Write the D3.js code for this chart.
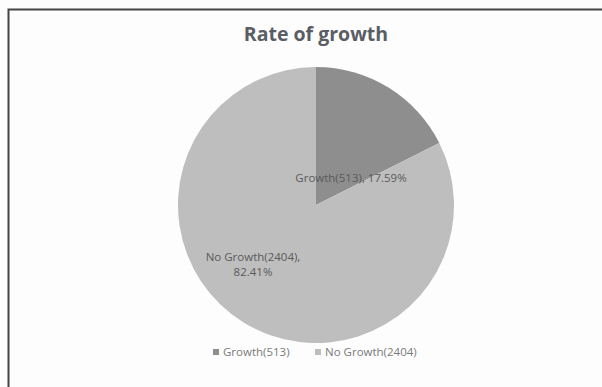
<!DOCTYPE html>
<html>
<head>
<meta charset="utf-8">
<script src="https://cdn.jsdelivr.net/npm/d3@7"></script>
<style>
  body { margin: 0; background: #fff; }
  svg { display: block; }
</style>
</head>
<body>
<div id="chart"></div>
<script>
// chart data
var categories = ["Growth", "No Growth"];
var counts = [513, 2404];
var percents = [17.59, 82.41];
var sliceColors = ["#8e8e8e", "#bebebe"];

var width = 602, height = 387;
var cx = 316, cy = 205, radius = 138;

var svg = d3.select("#chart").append("svg")
    .attr("width", width)
    .attr("height", height);

// background + frame (only top/left edge visible in the crop)
svg.append("rect")
    .attr("width", width).attr("height", height)
    .attr("fill", "#fdfdfd");
svg.append("path")
    .attr("d", "M8.5," + height + " L8.5,9.5 L" + width + ",9.5")
    .attr("fill", "none")
    .attr("stroke", "#444")
    .attr("stroke-width", 2);

// title
svg.append("text")
    .attr("x", 316).attr("y", 41)
    .attr("text-anchor", "middle")
    .style("font-family", "'Open Sans', sans-serif")
    .style("font-weight", "bold")
    .style("font-size", "19.5px")
    .attr("fill", "#5a5d64")
    .text("Rate of growth");

var data = categories.map(function(c, i) {
  return {name: c, count: counts[i], pct: percents[i], color: sliceColors[i]};
});

var pie = d3.pie()
    .sort(null)
    .value(function(d) { return d.count; });

var arc = d3.arc().innerRadius(0).outerRadius(radius);

var g = svg.append("g")
    .attr("transform", "translate(" + cx + "," + cy + ")");

var arcs = pie(data);

g.selectAll("path")
  .data(arcs)
  .enter().append("path")
    .attr("d", arc)
    .attr("fill", function(d) { return d.data.color; });

// slice labels
var lbl = g.selectAll(".lbl")
  .data(arcs)
  .enter().append("text")
    .attr("class", "lbl")
    .attr("text-anchor", "middle")
    .style("font-family", "'Open Sans', sans-serif")
    .style("font-size", "11.5px")
    .attr("fill", "#5a5a5a");

// growth label on one line, no growth on two
lbl.filter(function(d, i) { return i == 0; })
    .attr("x", 35).attr("y", -23)
    .text(function(d) { return d.data.name + "(" + d.data.count + "), " + d.data.pct.toFixed(2) + "%"; });

var ng = lbl.filter(function(d, i) { return i == 1; });
ng.append("tspan")
    .attr("x", -63).attr("y", 56)
    .text(function(d) { return d.data.name + "(" + d.data.count + "),"; });
ng.append("tspan")
    .attr("x", -63).attr("y", 71)
    .text(function(d) { return d.data.pct.toFixed(2) + "%"; });

// legend
var legendX = [213, 315];
var leg = svg.selectAll(".leg")
  .data(data)
  .enter().append("g")
    .attr("class", "leg")
    .attr("transform", function(d, i) { return "translate(" + legendX[i] + ",356)"; });

leg.append("rect")
    .attr("x", 0).attr("y", -7)
    .attr("width", 6).attr("height", 6)
    .attr("fill", function(d) { return d.color; });

leg.append("text")
    .attr("x", 10).attr("y", 0)
    .style("font-family", "'Open Sans', sans-serif")
    .style("font-size", "11.5px")
    .attr("fill", "#7a7a7a")
    .text(function(d) { return d.name + "(" + d.count + ")"; });
</script>
</body>
</html>
